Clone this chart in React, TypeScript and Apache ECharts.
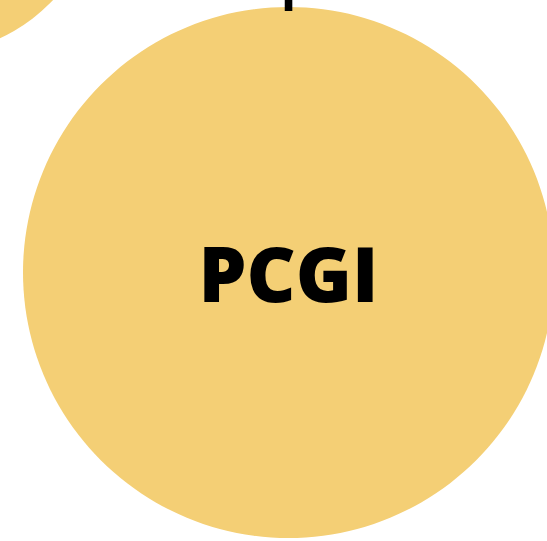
import React, { useEffect, useRef } from "react";
import * as echarts from "echarts";

const names = ["PCGI", "Other"];
const centersX = [288.5, -72];
const centersY = [272.5, -118];
const radii = [265.5, 172];
const topMark = "I";

export default function App() {
  const ref = useRef<HTMLDivElement>(null);
  useEffect(() => {
    document.body.style.margin = "0";
    document.body.style.overflow = "hidden";
    const chart = echarts.init(ref.current!, undefined, { renderer: "svg" });
    chart.setOption({
      animation: false,
      grid: { left: 0, right: 0, top: 0, bottom: 0 },
      xAxis: { type: "value", min: 0, max: 547, show: false },
      yAxis: { type: "value", min: 0, max: 541, inverse: true, show: false },
      graphic: [
        {
          type: "text",
          x: 288.5,
          y: -8,
          z: 10,
          style: {
            text: topMark,
            fill: "#000",
            font: "bold 50px 'Open Sans'",
            align: "center",
            verticalAlign: "middle",
          },
        },
      ],
      series: [
        {
          type: "scatter",
          symbol: "circle",
          clip: false,
          data: names.map((n, i) => ({
            name: n,
            value: [centersX[i], centersY[i], radii[i]],
            label: { show: i === 0 },
          })),
          symbolSize: (v: number[]) => v[2] * 2,
          itemStyle: { color: "#f4cf75", opacity: 1 },
          label: {
            show: true,
            position: "inside",
            formatter: "{b}",
            color: "#000",
            fontFamily: "Open Sans",
            fontWeight: 800,
            fontSize: 76,
          },
          emphasis: { disabled: true },
        },
      ],
    });
    return () => chart.dispose();
  }, []);
  return <div ref={ref} style={{ width: 547, height: 541 }} />;
}
